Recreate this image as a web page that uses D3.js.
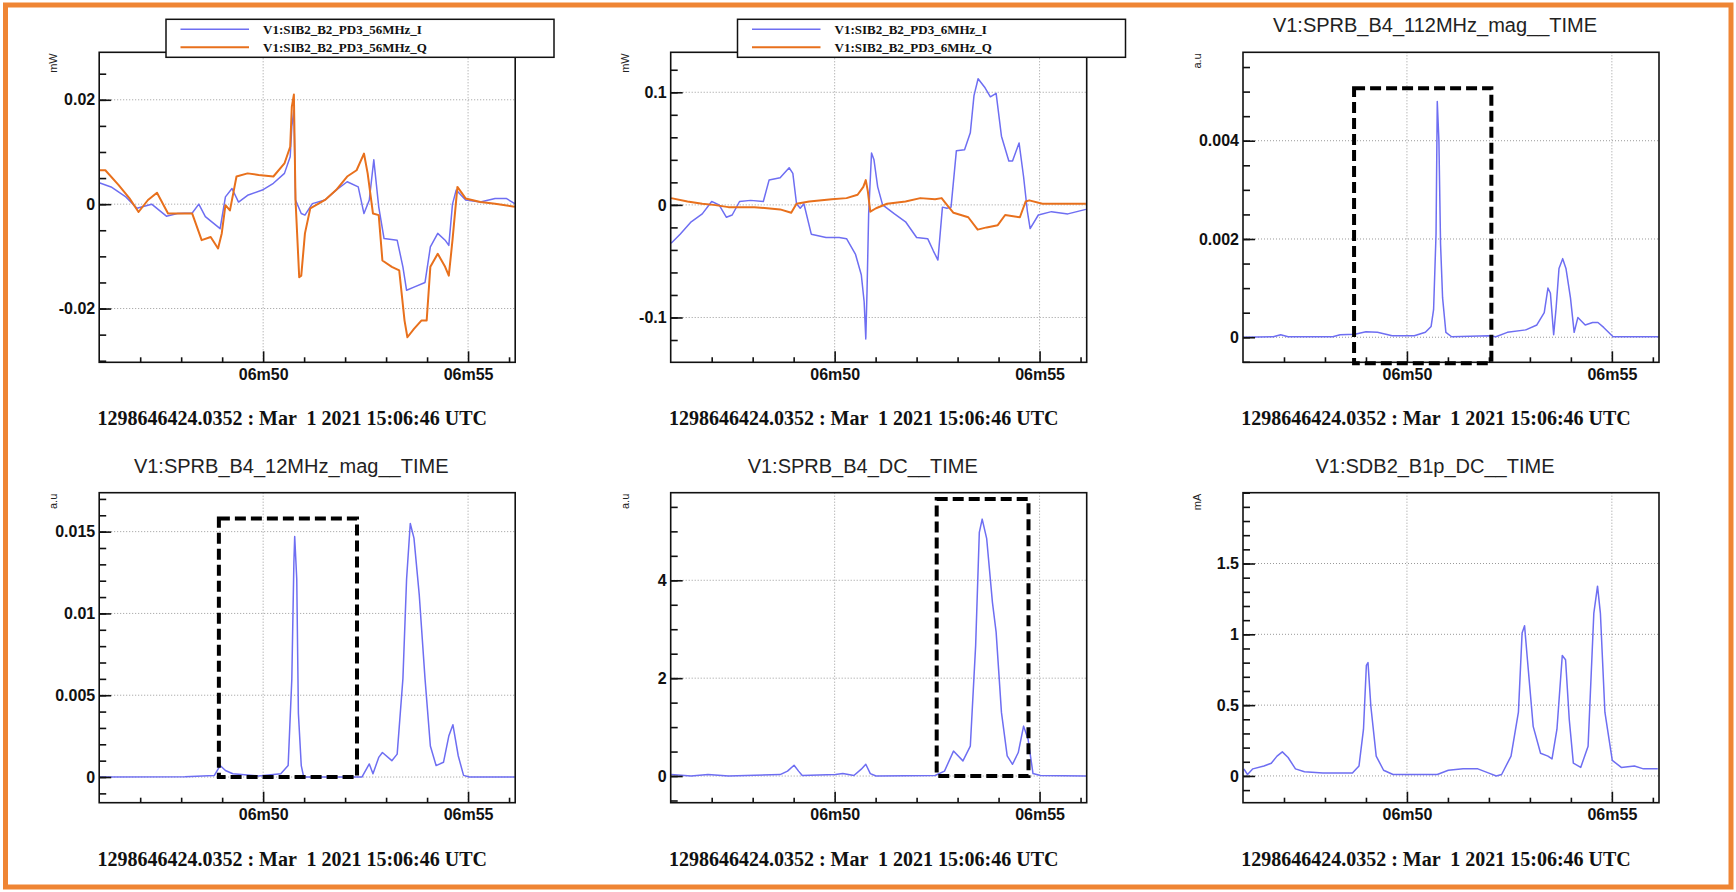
<!DOCTYPE html>
<html>
<head>
<meta charset="utf-8">
<script src="https://cdn.jsdelivr.net/npm/d3@7"></script>
<style>
    body { margin: 0; background: #ffffff; }
    svg { display: block; }
</style>
</head>
<body>
<svg id="plotSvg"></svg>
<script>
// time axis (seconds of minute 06), shared by all six pads
const timeDomain = [46.0, 56.15];
const timeTicks = [47, 48, 49, 50, 51, 52, 53, 54, 55, 56];
const timeMajor = [50, 55];
const timeLabels = { 50: "06m50", 55: "06m55" };
const dateText = "1298646424.0352 : Mar  1 2021 15:06:46 UTC";

// pad 1 : 56MHz I / Q  [time, mW]
const p1I = [[46.00,0.0041],[46.29,0.0033],[46.65,0.0014],[46.92,-0.0008],[47.28,0.0],[47.64,-0.0023],
    [47.91,-0.0018],[48.27,-0.0017],[48.43,0.0],[48.59,-0.0024],[48.95,-0.0047],[49.08,0.0014],[49.24,0.003],
    [49.40,0.0004],[49.62,0.0017],[49.98,0.0027],[50.25,0.004],[50.52,0.0059],[50.66,0.0091],[50.70,0.0149],
    [50.75,0.018],[50.79,0.0008],[50.93,-0.0018],[51.02,-0.0021],[51.20,0.0001],[51.51,0.0008],[51.78,0.0027],
    [52.05,0.0043],[52.32,0.0033],[52.46,-0.0018],[52.59,0.0008],[52.70,0.0085],[52.82,-0.0005],[52.95,-0.0066],
    [53.27,-0.0069],[53.41,-0.012],[53.50,-0.0165],[53.68,-0.0159],[53.95,-0.015],[54.08,-0.0082],[54.26,-0.0056],
    [54.44,-0.0069],[54.53,-0.0079],[54.62,0.0],[54.71,0.0027],[54.94,0.0008],[55.30,0.0004],[55.66,0.0011],
    [55.93,0.0011],[56.14,0.0001]];
const p1Q = [[46.00,0.0065],[46.15,0.0065],[46.47,0.0037],[46.74,0.0011],[46.96,-0.0015],[47.19,0.0008],
    [47.41,0.0022],[47.68,-0.0018],[48.00,-0.0018],[48.27,-0.0018],[48.50,-0.0069],[48.72,-0.0063],[48.90,-0.0085],
    [48.99,-0.0056],[49.08,-0.0002],[49.19,-0.0012],[49.35,0.0053],[49.62,0.0059],[49.89,0.0056],[50.25,0.0053],
    [50.52,0.0078],[50.66,0.011],[50.70,0.0187],[50.75,0.021],[50.79,0.0008],[50.88,-0.014],[50.93,-0.0137],
    [51.02,-0.0056],[51.15,-0.0008],[51.51,0.0008],[51.78,0.0027],[52.05,0.0053],[52.28,0.0065],[52.46,0.0097],
    [52.55,0.0059],[52.68,-0.0018],[52.82,-0.0021],[52.91,-0.0108],[53.14,-0.012],[53.32,-0.0127],[53.45,-0.0223],
    [53.52,-0.0255],[53.68,-0.0239],[53.86,-0.0223],[53.99,-0.0223],[54.08,-0.012],[54.26,-0.0095],[54.44,-0.012],
    [54.53,-0.0137],[54.62,-0.0069],[54.74,0.0033],[54.94,0.0011],[55.30,0.0004],[55.66,0.0001],[56.14,-0.0005]];
const p1Ticks = [-0.02, 0, 0.02];

// pad 2 : 6MHz I / Q  [time, mW]
const p2I = [[46.01,-0.034],[46.23,-0.026],[46.50,-0.015],[46.77,-0.008],[47.00,0.003],[47.18,0.0],[47.36,-0.011],
    [47.50,-0.009],[47.68,0.003],[47.95,0.004],[48.26,0.003],[48.40,0.022],[48.67,0.024],[48.89,0.033],[48.98,0.028],
    [49.07,0.001],[49.16,-0.003],[49.25,0.001],[49.43,-0.026],[49.79,-0.029],[50.11,-0.029],[50.29,-0.030],
    [50.51,-0.044],[50.65,-0.062],[50.72,-0.086],[50.76,-0.119],[50.79,-0.077],[50.83,-0.008],[50.90,0.046],
    [50.96,0.040],[51.05,0.016],[51.17,0.0],[51.46,-0.008],[51.73,-0.015],[52.00,-0.029],[52.27,-0.030],
    [52.41,-0.041],[52.52,-0.049],[52.63,-0.002],[52.74,-0.003],[52.84,-0.002],[52.97,0.048],[53.17,0.049],
    [53.31,0.064],[53.40,0.097],[53.50,0.112],[53.67,0.104],[53.80,0.096],[53.94,0.099],[54.07,0.061],
    [54.25,0.039],[54.34,0.039],[54.50,0.055],[54.61,0.025],[54.70,-0.005],[54.77,-0.021],[54.97,-0.009],
    [55.29,-0.006],[55.69,-0.008],[56.13,-0.004]];
const p2Q = [[46.01,0.006],[46.41,0.003],[46.77,0.001],[47.05,0.0],[47.41,-0.002],[48.04,-0.002],[48.67,-0.004],
    [48.94,-0.007],[49.07,0.001],[49.38,0.003],[49.93,0.005],[50.29,0.006],[50.56,0.009],[50.70,0.016],[50.76,0.022],
    [50.81,0.012],[50.87,-0.006],[51.01,-0.003],[51.28,0.001],[51.73,0.003],[52.09,0.006],[52.45,0.005],[52.61,0.006],
    [52.72,0.001],[52.90,-0.007],[53.26,-0.011],[53.49,-0.022],[53.71,-0.020],[53.98,-0.018],[54.16,-0.009],
    [54.52,-0.011],[54.66,0.003],[54.75,0.004],[55.07,0.001],[56.13,0.001]];
const p2Ticks = [-0.1, 0, 0.1];

// pad 3 : SPRB_B4_112MHz_mag  [time, a.u]
const p3Mag = [[46.00,0.0],[46.74,0.00001],[46.92,0.00005],[47.10,0.00001],[48.19,0.00001],[48.37,0.00005],
    [48.73,0.00006],[49.00,0.00011],[49.28,0.0001],[49.64,0.00003],[50.18,0.00003],[50.45,0.0001],[50.59,0.00022],
    [50.65,0.00056],[50.71,0.0021],[50.74,0.0048],[50.78,0.004],[50.82,0.0019],[50.87,0.0008],[50.95,0.0001],
    [51.09,0.00001],[51.99,0.00003],[52.17,0.00001],[52.45,0.0001],[52.90,0.00015],[53.17,0.00025],[53.35,0.0005],
    [53.44,0.001],[53.50,0.0009],[53.58,0.00005],[53.64,0.0006],[53.71,0.0014],[53.80,0.0016],[53.88,0.0014],
    [53.99,0.0008],[54.08,0.0001],[54.17,0.0004],[54.35,0.00025],[54.53,0.0003],[54.66,0.0003],[54.80,0.0002],
    [55.03,0.00001],[56.14,0.00001]];
const p3Ticks = [0, 0.002, 0.004];
const p3Box = [[48.71, -0.00053], [52.06, 0.00507]];

// pad 4 : SPRB_B4_12MHz_mag  [time, a.u]
const p4Mag = [[46.00,0.0],[48.09,0.00002],[48.81,0.0001],[48.95,0.0007],[49.08,0.0004],[49.26,0.0002],
    [49.89,0.00006],[50.43,0.0002],[50.61,0.0007],[50.70,0.006],[50.75,0.0131],[50.77,0.0147],[50.82,0.0121],
    [50.86,0.0039],[50.93,0.0007],[50.99,0.0],[52.41,0.0],[52.59,0.0008],[52.68,0.0002],[52.82,0.0012],
    [52.91,0.0015],[53.14,0.001],[53.27,0.0014],[53.41,0.006],[53.50,0.0121],[53.59,0.0155],[53.68,0.0146],
    [53.81,0.0111],[53.95,0.006],[54.08,0.0019],[54.22,0.0007],[54.40,0.0009],[54.53,0.0025],[54.63,0.0032],
    [54.76,0.0013],[54.89,0.0001],[55.03,0.0],[56.14,0.0]];
const p4Ticks = [0, 0.005, 0.01, 0.015];
const p4Box = [[48.92, 0], [52.29, 0.0158]];

// pad 5 : SPRB_B4_DC  [time, a.u]
const p5DC = [[46.01,0.03],[46.50,0.0],[46.91,0.03],[47.41,0.0],[48.67,0.03],[48.85,0.10],[49.01,0.22],
    [49.12,0.10],[49.21,0.01],[50.02,0.03],[50.20,0.05],[50.47,0.01],[50.65,0.14],[50.76,0.24],[50.87,0.05],
    [51.01,0.0],[52.45,0.01],[52.68,0.10],[52.90,0.51],[53.13,0.31],[53.31,0.61],[53.44,2.66],[53.53,4.98],
    [53.60,5.25],[53.71,4.85],[53.85,3.55],[53.94,2.94],[54.07,1.30],[54.21,0.41],[54.34,0.24],[54.48,0.48],
    [54.61,1.02],[54.72,0.75],[54.84,0.05],[55.02,0.01],[56.13,0.0]];
const p5Ticks = [0, 2, 4];
const p5Box = [[52.49, 0], [54.73, 5.66]];

// pad 6 : SDB2_B1p_DC  [time, mA]
const p6DC = [[46.02,0.05],[46.11,0.01],[46.24,0.05],[46.51,0.07],[46.69,0.09],[46.83,0.14],[46.96,0.17],
    [47.10,0.13],[47.28,0.05],[47.50,0.03],[47.95,0.02],[48.67,0.02],[48.83,0.07],[48.94,0.33],[49.01,0.78],
    [49.05,0.80],[49.12,0.49],[49.25,0.14],[49.43,0.04],[49.66,0.01],[50.20,0.01],[50.74,0.01],[51.01,0.04],
    [51.37,0.05],[51.73,0.05],[52.00,0.02],[52.18,0.0],[52.31,0.01],[52.54,0.14],[52.72,0.45],[52.81,1.01],
    [52.87,1.06],[52.94,0.82],[53.08,0.35],[53.26,0.16],[53.44,0.14],[53.54,0.12],[53.66,0.33],[53.79,0.85],
    [53.87,0.82],[53.96,0.40],[54.06,0.09],[54.24,0.06],[54.42,0.21],[54.56,1.15],[54.65,1.34],[54.72,1.15],
    [54.83,0.45],[55.01,0.11],[55.23,0.06],[55.55,0.07],[55.77,0.05],[56.12,0.05]];
const p6Ticks = [0, 0.5, 1, 1.5];

const blue = "#6e6ef2";
const orange = "#e8701c";

const panels = [
    { col: 0, row: 0, yDomain: [-0.0303, 0.0291], yTicks: p1Ticks, yMinor: 0.005, unit: "mW",
      series: [{ name: "V1:SIB2_B2_PD3_56MHz_I", data: p1I, color: blue, w: 1.5 },
               { name: "V1:SIB2_B2_PD3_56MHz_Q", data: p1Q, color: orange, w: 2 }], legend: true },
    { col: 1, row: 0, yDomain: [-0.1398, 0.1355], yTicks: p2Ticks, yMinor: 0.02, unit: "mW",
      series: [{ name: "V1:SIB2_B2_PD3_6MHz_I", data: p2I, color: blue, w: 1.5 },
               { name: "V1:SIB2_B2_PD3_6MHz_Q", data: p2Q, color: orange, w: 2 }], legend: true },
    { col: 2, row: 0, yDomain: [-0.00051, 0.0058], yTicks: p3Ticks, yMinor: 0.0005, unit: "a.u",
      title: "V1:SPRB_B4_112MHz_mag__TIME", series: [{ data: p3Mag, color: blue, w: 1.5 }], box: p3Box },
    { col: 0, row: 1, yDomain: [-0.00157, 0.01738], yTicks: p4Ticks, yMinor: 0.001, unit: "a.u",
      title: "V1:SPRB_B4_12MHz_mag__TIME", series: [{ data: p4Mag, color: blue, w: 1.5 }], box: p4Box },
    { col: 1, row: 1, yDomain: [-0.545, 5.79], yTicks: p5Ticks, yMinor: 0.5, unit: "a.u",
      title: "V1:SPRB_B4_DC__TIME", series: [{ data: p5DC, color: blue, w: 1.5 }], box: p5Box },
    { col: 2, row: 1, yDomain: [-0.189, 2.0], yTicks: p6Ticks, yMinor: 0.1, unit: "mA",
      title: "V1:SDB2_B1p_DC__TIME", series: [{ data: p6DC, color: blue, w: 1.5 }] }
];

const colLeft = [99.2, 670.7, 1243];
const rowTop = [52.3, 492.7];
const frameW = 416, frameH = 310;

const svg = d3.select("#plotSvg")
    .attr("width", 1736)
    .attr("height", 892);

svg.append("rect")
    .attr("width", 1736).attr("height", 892)
    .attr("fill", "#ffffff");

// orange outer border
svg.append("rect")
    .attr("x", 5.5).attr("y", 5)
    .attr("width", 1725.5).attr("height", 882)
    .attr("fill", "none")
    .attr("stroke", "#ef8534")
    .attr("stroke-width", 5);

function minorValues(domain, step) {
    const out = [];
    const k0 = Math.ceil(domain[0] / step - 1e-9);
    const k1 = Math.floor(domain[1] / step + 1e-9);
    for (let k = k0; k <= k1; k++) out.push(+(k * step).toFixed(6));
    return out;
}

panels.forEach(function (p, i) {
    const g = svg.append("g")
        .attr("transform", `translate(${colLeft[p.col]},${rowTop[p.row]})`);

    const x = d3.scaleLinear().domain(timeDomain).range([0, frameW]);
    const y = d3.scaleLinear().domain(p.yDomain).range([frameH, 0]);

    g.append("clipPath").attr("id", "clip" + i)
        .append("rect").attr("width", frameW).attr("height", frameH);

    // dotted grid at major ticks
    g.append("g").selectAll("line.gy")
        .data(p.yTicks)
        .join("line")
        .attr("x1", 0).attr("x2", frameW)
        .attr("y1", d => y(d)).attr("y2", d => y(d))
        .attr("stroke", "#9a9a9a").attr("stroke-width", 1)
        .attr("stroke-dasharray", "1,2");
    g.append("g").selectAll("line.gx")
        .data(timeMajor)
        .join("line")
        .attr("x1", d => x(d)).attr("x2", d => x(d))
        .attr("y1", 0).attr("y2", frameH)
        .attr("stroke", "#9a9a9a").attr("stroke-width", 1)
        .attr("stroke-dasharray", "1,2");

    // series
    const line = d3.line()
        .x(d => x(d[0]))
        .y(d => y(d[1]));
    g.append("g")
        .attr("clip-path", `url(#clip${i})`)
        .selectAll("path")
        .data(p.series)
        .join("path")
        .attr("d", s => line(s.data))
        .attr("fill", "none")
        .attr("stroke", s => s.color)
        .attr("stroke-width", s => s.w)
        .attr("stroke-linejoin", "round");

    // frame
    g.append("rect")
        .attr("width", frameW).attr("height", frameH)
        .attr("fill", "none")
        .attr("stroke", "#111")
        .attr("stroke-width", 1.6);

    // y axis: major + minor ticks pointing inwards
    const yMajor = g.append("g")
        .call(d3.axisLeft(y).tickValues(p.yTicks).tickSize(-12).tickPadding(4)
            .tickFormat(d => String(d)));
    const yMin = g.append("g")
        .call(d3.axisLeft(y).tickValues(minorValues(p.yDomain, p.yMinor)).tickSize(-7).tickFormat(""));

    // x axis
    const xMaj = g.append("g")
        .attr("transform", `translate(0,${frameH})`)
        .call(d3.axisBottom(x).tickValues(timeMajor).tickSize(-11).tickPadding(6)
            .tickFormat(d => timeLabels[d]));
    const xMin = g.append("g")
        .attr("transform", `translate(0,${frameH})`)
        .call(d3.axisBottom(x).tickValues(timeTicks.filter(t => !timeMajor.includes(t)))
            .tickSize(-5).tickFormat(""));

    [yMajor, yMin, xMaj, xMin].forEach(a => {
        a.select(".domain").remove();
        a.selectAll(".tick line").attr("stroke", "#111").attr("stroke-width", 1.6);
        a.selectAll("text")
            .attr("fill", "#111")
            .style("font-family", "'Liberation Sans', Arial, sans-serif")
            .style("font-weight", "bold")
            .style("font-size", "16px");
    });

    // unit label
    g.append("text")
        .attr("transform", "translate(-46,1) rotate(-90)")
        .attr("text-anchor", "end")
        .attr("dy", "0.35em")
        .style("font-family", "'Liberation Sans', Arial, sans-serif")
        .style("font-size", "11px")
        .attr("fill", "#222")
        .text(p.unit);

    // time stamp under the pad
    g.append("text")
        .attr("x", frameW / 2 - 15)
        .attr("y", frameH + 63)
        .attr("text-anchor", "middle")
        .style("font-family", "'Liberation Serif', 'Times New Roman', serif")
        .style("font-weight", "bold")
        .style("font-size", "20px")
        .style("white-space", "pre")
        .attr("fill", "#111")
        .text(dateText);

    if (p.title) {
        g.append("text")
            .attr("x", frameW / 2 - 16)
            .attr("y", -20)
            .attr("text-anchor", "middle")
            .style("font-family", "'Liberation Sans', Arial, sans-serif")
            .style("font-size", "20px")
            .attr("fill", "#222")
            .text(p.title);
    }

    if (p.box) {
        g.append("rect")
            .attr("x", x(p.box[0][0]))
            .attr("y", y(p.box[1][1]))
            .attr("width", x(p.box[1][0]) - x(p.box[0][0]))
            .attr("height", y(p.box[0][1]) - y(p.box[1][1]))
            .attr("fill", "none")
            .attr("stroke", "#000")
            .attr("stroke-width", 4)
            .attr("stroke-dasharray", "11,5");
    }

    if (p.legend) {
        const lg = g.append("g").attr("transform", "translate(66.8,-33)");
        lg.append("rect")
            .attr("width", 388).attr("height", 38)
            .attr("fill", "#fff")
            .attr("stroke", "#111")
            .attr("stroke-width", 1.5);
        const rows = lg.selectAll("g.row")
            .data(p.series)
            .join("g")
            .attr("transform", (d, k) => `translate(0,${10 + k * 18})`);
        rows.append("line")
            .attr("x1", 14.5).attr("x2", 83)
            .attr("stroke", d => d.color)
            .attr("stroke-width", d => d.w);
        rows.append("text")
            .attr("x", 97)
            .attr("y", 4.5)
            .style("font-family", "'Liberation Serif', 'Times New Roman', serif")
            .style("font-weight", "bold")
            .style("font-size", "13px")
            .attr("fill", "#111")
            .text(d => d.name);
    }
});
</script>
</body>
</html>
